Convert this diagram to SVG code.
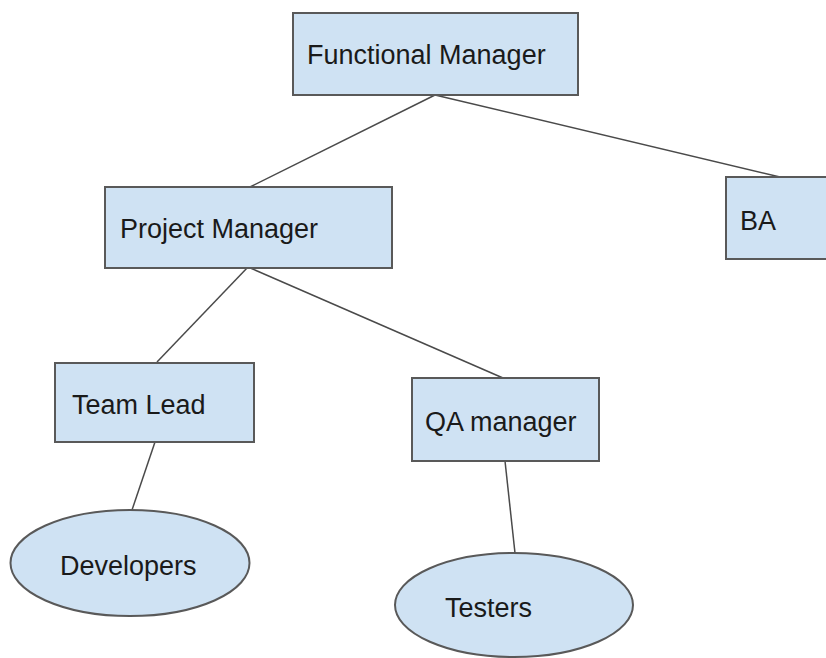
<svg xmlns="http://www.w3.org/2000/svg" width="826" height="658" viewBox="0 0 826 658">
<style>
.box{fill:#cfe2f3;stroke:#595959;stroke-width:2}
.lbl{font-family:"Liberation Sans",Arial,sans-serif;font-size:27px;fill:#1a1a1a}
.con{stroke:#4a4a4a;stroke-width:1.5;fill:none}
</style>
<rect width="826" height="658" fill="#ffffff"/>
<g id="connectors">
<line class="con" x1="435" y1="95" x2="250" y2="187"/>
<line class="con" x1="435" y1="95" x2="780" y2="177"/>
<line class="con" x1="248" y1="267" x2="157" y2="362"/>
<line class="con" x1="248" y1="267" x2="503" y2="378"/>
<line class="con" x1="155" y1="442" x2="132" y2="510"/>
<line class="con" x1="505" y1="461" x2="515" y2="553"/>
</g>
<g id="functional-manager">
<rect class="box" x="293" y="13" width="285" height="82"/>
<text class="lbl" x="307" y="64">Functional Manager</text>
</g>
<g id="project-manager">
<rect class="box" x="105" y="187" width="287" height="81"/>
<text class="lbl" x="120" y="238">Project Manager</text>
</g>
<g id="ba">
<rect class="box" x="726" y="177" width="110" height="82"/>
<text class="lbl" x="740" y="230">BA</text>
</g>
<g id="team-lead">
<rect class="box" x="55" y="363" width="199" height="79"/>
<text class="lbl" x="72" y="414">Team Lead</text>
</g>
<g id="qa-manager">
<rect class="box" x="412" y="378" width="187" height="83"/>
<text class="lbl" x="425" y="431">QA manager</text>
</g>
<g id="developers">
<ellipse class="box" cx="130" cy="563" rx="119.5" ry="53"/>
<text class="lbl" x="60" y="575">Developers</text>
</g>
<g id="testers">
<ellipse class="box" cx="514" cy="605" rx="119" ry="52"/>
<text class="lbl" x="445" y="617">Testers</text>
</g>
</svg>
